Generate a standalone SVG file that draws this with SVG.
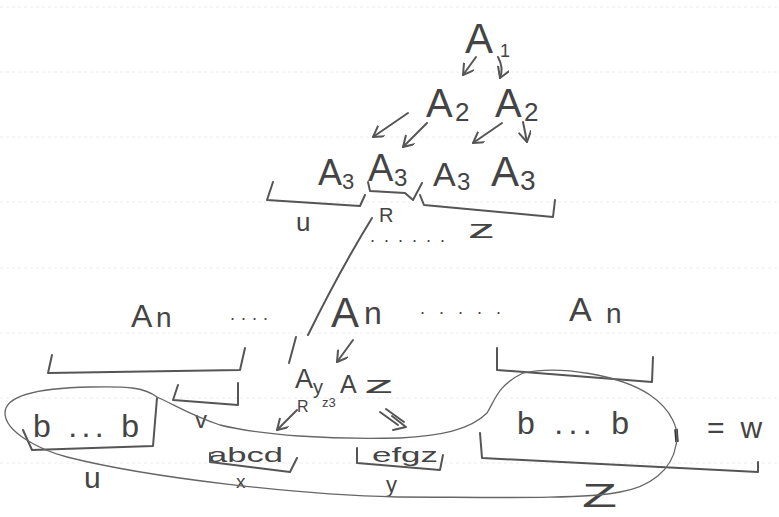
<svg xmlns="http://www.w3.org/2000/svg" width="779" height="517" viewBox="0 0 779 517">
<defs>
<marker id="ah" markerWidth="14" markerHeight="14" refX="11" refY="6" orient="auto" markerUnits="userSpaceOnUse">
<path d="M1,0 L11,6 L1,12" fill="none" stroke="#555" stroke-width="2" stroke-linecap="round" stroke-linejoin="round"/>
</marker>
</defs>
<style>
text{font-family:"Liberation Sans","DejaVu Sans",sans-serif;fill:#444}
.ink{fill:none;stroke:#555;stroke-width:2;stroke-linecap:round;stroke-linejoin:round}
.thin{fill:none;stroke:#666;stroke-width:1.3}
.rule{stroke:#ececec;stroke-width:1;stroke-dasharray:3 3}
.arr{fill:none;stroke:#555;stroke-width:2;stroke-linecap:round;marker-end:url(#ah)}
</style>
<rect width="779" height="517" fill="#fff"/>
<g id="rules">
<line class="rule" x1="0" y1="7" x2="779" y2="7"/>
<line class="rule" x1="0" y1="72" x2="779" y2="72"/>
<line class="rule" x1="0" y1="137" x2="779" y2="137"/>
<line class="rule" x1="0" y1="202" x2="779" y2="202"/>
<line class="rule" x1="0" y1="268" x2="779" y2="268"/>
<line class="rule" x1="0" y1="333" x2="779" y2="333"/>
<line class="rule" x1="0" y1="398" x2="779" y2="398"/>
<line class="rule" x1="0" y1="463" x2="779" y2="463"/>
</g>

<g id="A1"><text x="465" y="53" font-size="42">A</text><text x="500" y="57" font-size="18">1</text></g>
<g id="A2a"><text x="426" y="117" font-size="40">A</text><text x="455" y="121" font-size="26">2</text></g>
<g id="A2b"><text x="495" y="117" font-size="40">A</text><text x="524" y="121" font-size="26">2</text></g>
<g id="A3a"><text x="318" y="185" font-size="36">A</text><text x="342" y="189" font-size="22">3</text></g>
<g id="A3b"><text x="368" y="181" font-size="38">A</text><text x="394" y="186" font-size="24">3</text></g>
<g id="A3c"><text x="433" y="186" font-size="34">A</text><text x="457" y="190" font-size="24">3</text></g>
<g id="A3d"><text x="491" y="186" font-size="42">A</text><text x="520" y="190" font-size="28">3</text></g>

<g id="labels-top">
<text x="296" y="231" font-size="26">u</text>
<text x="379" y="222" font-size="20">R</text>
<text x="468" y="238" font-size="26" textLength="27" lengthAdjust="spacingAndGlyphs">z</text>
<text x="370" y="242" font-size="18" letter-spacing="9">......</text>
</g>

<g id="An1"><text x="131" y="327" font-size="32">A</text><text x="156" y="327" font-size="28">n</text></g>
<g id="dots1"><text x="230" y="320" font-size="18" letter-spacing="6">....</text></g>
<g id="An2"><text x="331" y="327" font-size="42">A</text><text x="364" y="324" font-size="32">n</text></g>
<g id="dots2"><text x="420" y="314" font-size="18" letter-spacing="14">.....</text></g>
<g id="An3"><text x="569" y="321" font-size="34">A</text><text x="606" y="323" font-size="28">n</text></g>

<g id="AyAz">
<text x="295" y="388" font-size="27">A</text><text x="313" y="394" font-size="20">y</text>
<text x="322" y="407" font-size="13">z3</text>
<text x="297" y="412" font-size="16">R</text>
<text x="340" y="393" font-size="25">A</text><text x="364" y="393" font-size="24" textLength="30" lengthAdjust="spacingAndGlyphs">z</text>
</g>

<g id="bleft"><text x="33" y="437" font-size="32" textLength="106" lengthAdjust="spacing">b ... b</text></g>
<g id="bright"><text x="517" y="434" font-size="32" textLength="112" lengthAdjust="spacing">b ... b</text></g>
<g id="abcd"><text x="208" y="462" font-size="21" textLength="75" lengthAdjust="spacingAndGlyphs">abcd</text></g>
<g id="efgz"><text x="372" y="462" font-size="21" textLength="66" lengthAdjust="spacingAndGlyphs">efgz</text></g>
<g id="labels-bottom">
<text x="195" y="428" font-size="24">v</text>
<text x="84" y="488" font-size="30">u</text>
<text x="236" y="488" font-size="19">x</text>
<text x="386" y="492" font-size="22">y</text>
<text x="582" y="507" font-size="34" textLength="35" lengthAdjust="spacingAndGlyphs">Z</text>
<text x="707" y="438" font-size="30">=<tspan dx="16">w</tspan></text>
</g>

<g id="brackets">
<path class="ink" d="M273,182 L267,200 L360,206 L365,195"/>
<path class="ink" d="M368,182 L370,191 L405,193 L413,200 L422,183"/>
<path class="ink" d="M420,195 L424,205 L553,217 L555,200"/>
<path class="ink" d="M52,355 L48,373 L240,370 L245,348"/>
<path class="ink" d="M178,385 L173,400 L238,405 L238,383"/>
<path class="ink" d="M497,348 L497,370 L652,382 L653,357"/>
<path class="ink" d="M210,453 L210,462 L290,472 L297,458"/>
<path class="ink" d="M357,448 L357,463 L440,470 L443,455"/>
<path class="ink" d="M23,430 L32,450 L153,446 L157,398"/>
<path class="ink" d="M480,433 L482,458 L758,472 L758,462"/>
<path d="M676,429 L677,442" stroke="#333" stroke-width="3.5" fill="none"/>
</g>

<g id="outline">
<path class="thin" d="M5,413 C5,395 40,388 90,387 C130,386 145,388 157,397 C175,405 190,415 220,425 C260,435 330,440 400,438 C440,436 470,430 487,413 C495,400 498,385 523,373 C560,365 620,375 650,395 C672,410 680,430 676,445 C672,470 650,487 620,492 C580,500 480,497 397,497 C300,495 150,478 67,457 C40,450 5,432 5,413 Z"/>
</g>

<g id="connectors">
<path class="arr" d="M476,57 L463,75"/>
<path class="arr" d="M498,57 Q504,68 500,78"/>
<path class="arr" d="M408,113 L373,137"/>
<path class="arr" d="M427,123 L403,147"/>
<path class="arr" d="M502,123 L473,143"/>
<path class="arr" d="M523,122 L527,142"/>
<path class="arr" d="M353,340 L337,362"/>
<path class="arr" d="M297,410 L277,430"/>
<path class="ink" d="M380,412 L398,425 M386,409 L404,422"/>
<path class="ink" d="M392,416 L406,427 L393,430"/>
<path class="ink" d="M372,218 Q340,270 308,335"/>
<path class="ink" d="M296,337 L289,363"/>
</g>
</svg>
